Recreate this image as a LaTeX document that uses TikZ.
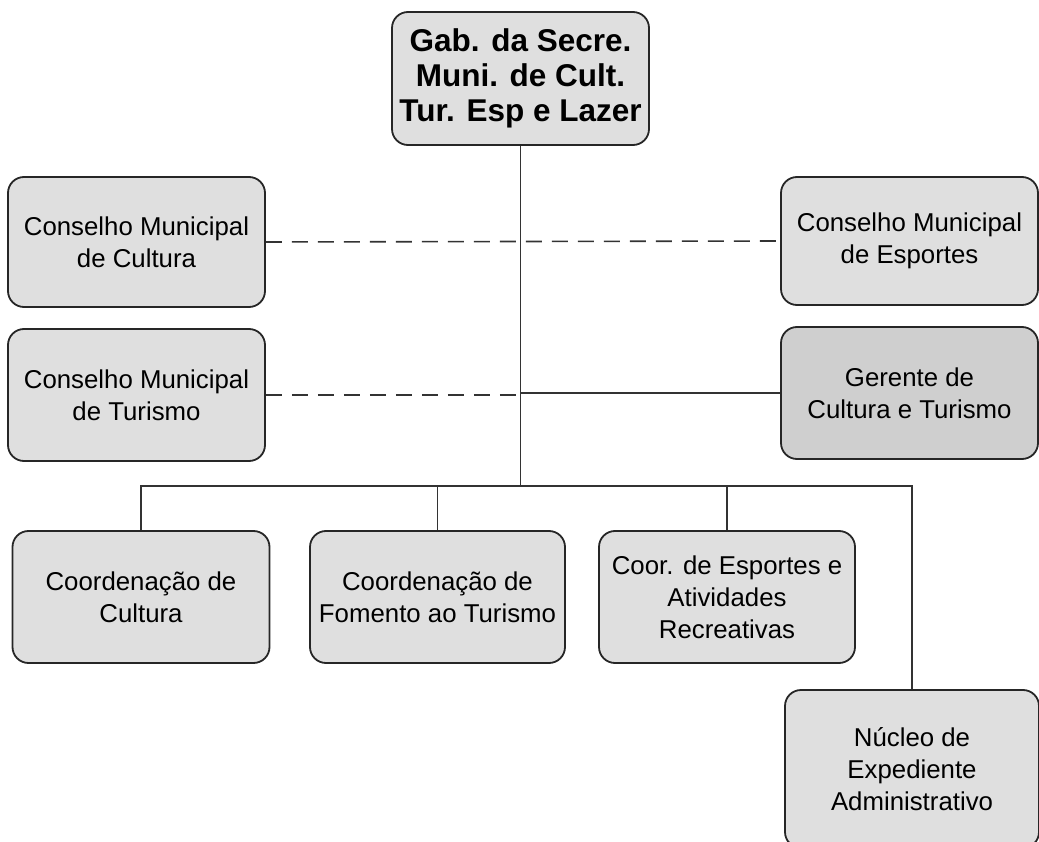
\documentclass[tikz,border=0pt]{standalone}
\usepackage{fontspec}
\setmainfont{Liberation Sans}
\begin{document}
\begin{tikzpicture}[
            x=1pt, y=-1pt,
            box/.style={draw=black!85, line width=1.8pt, rounded corners=16pt, fill=gray!25,
                        align=center, inner sep=0pt, minimum width=257pt, minimum height=131pt,
                        font=\fontsize{25.8}{32}\selectfont},
            darkbox/.style={box, fill=gray!38},
            link/.style={draw=black!80, line width=1.6pt},
            dashlink/.style={link, dash pattern=on 16pt off 10pt}
            ]
        \useasboundingbox (0,0) rectangle (1039,842);
        \clip (0,0) rectangle (1039,842);
        % top
        \node[box, minimum height=133pt, font=\fontsize{31.5}{35}\selectfont\bfseries] (gab) at (520.5,78.5)
            {Gab. da Secre.\\Muni. de Cult.\\Tur. Esp e Lazer};
        % councils and manager
        \node[box, minimum height=130pt] (cmcult) at (136.5,242) {Conselho Municipal\\de Cultura};
        \node[box, minimum height=132pt] (cmtur) at (136.5,395) {Conselho Municipal\\de Turismo};
        \node[box, minimum height=128pt] (cmesp) at (909.5,241) {Conselho Municipal\\de Esportes};
        \node[darkbox, minimum height=132pt] (gerente) at (909.5,393) {Gerente de\\Cultura e Turismo};
        % coordinations
        \node[box, minimum height=132pt] (coorcult) at (141,597) {Coordena\c{c}\~ao de\\Cultura};
        \node[box, minimum height=132pt, minimum width=255pt] (coortur) at (437.5,597) {Coordena\c{c}\~ao de\\Fomento ao Turismo};
        \node[box, minimum height=132pt, minimum width=256pt] (cooresp) at (727,597) {Coor. de Esportes e\\Atividades\\Recreativas};
        \node[box, minimum height=158pt, minimum width=254pt] (nucleo) at (912,769) {N\'ucleo de\\Expediente\\Administrativo};

        \coordinate (bus) at (gab.south |- 0,486);
        \draw[link] (gab.south) -- (bus);
        \draw[dashlink] (cmcult.east) -- (cmesp.west);
        \draw[dashlink] (cmtur.east) -- (cmtur.east -| gab.south);
        \draw[link] (gerente.west) -- (gerente.west -| gab.south);
        \draw[link] (coorcult.north) |- (bus) -| (nucleo.north);
        \draw[link] (coortur.north) -- (coortur.north |- bus);
        \draw[link] (cooresp.north) -- (cooresp.north |- bus);
        \end{tikzpicture}
\end{document}
